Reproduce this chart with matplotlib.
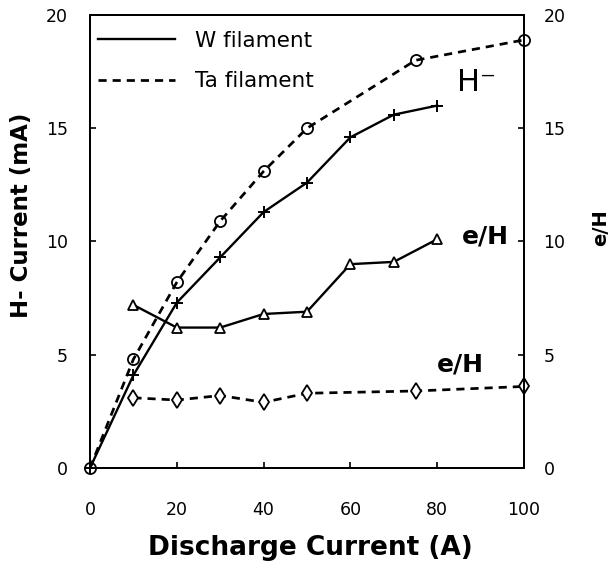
import matplotlib
matplotlib.use("Agg")
import matplotlib.pyplot as plt

plt.rcParams['font.family'] = ['DejaVu Sans']

# Data
w_h_x = [0, 10, 20, 30, 40, 50, 60, 70, 80]
w_h_y = [0, 4.1, 7.3, 9.3, 11.3, 12.6, 14.6, 15.6, 16.0]
ta_h_x = [0, 10, 20, 30, 40, 50, 75, 100]
ta_h_y = [0, 4.8, 8.2, 10.9, 13.1, 15.0, 18.0, 18.9]
w_eh_x = [10, 20, 30, 40, 50, 60, 70, 80]
w_eh_y = [7.2, 6.2, 6.2, 6.8, 6.9, 9.0, 9.1, 10.1]
ta_eh_x = [10, 20, 30, 40, 50, 75, 100]
ta_eh_y = [3.1, 3.0, 3.2, 2.9, 3.3, 3.4, 3.6]
x_ticks = [0, 20, 40, 60, 80, 100]
y_ticks = [0, 5, 10, 15, 20]

fig = plt.figure(figsize=(6.14, 5.73), dpi=100)
ax = fig.add_axes([90/614, 1-468/573, 434/614, 453/573])
ax2 = ax.twinx()

lw = 1.7
dash = (3.0, 2.2)
ax.plot(w_h_x, w_h_y, color='black', lw=lw, marker='+', ms=9, mew=1.4,
        label='W filament', zorder=3, clip_on=False)
ax.plot(ta_h_x, ta_h_y, color='black', lw=lw * 1.15, ls=(0, dash), marker='o', ms=8,
        mfc='none', mec='black', mew=1.3, label='Ta filament', zorder=2, clip_on=False)
ax2.plot(w_eh_x, w_eh_y, color='black', lw=lw, marker='^', ms=7.5,
         mfc='white', mec='black', mew=1.3, clip_on=False)
ax2.plot(ta_eh_x, ta_eh_y, color='black', lw=lw * 1.15, ls=(0, dash), marker='d', ms=8,
         mfc='white', mec='black', mew=1.3, clip_on=False)

for a in (ax, ax2):
    a.set_xlim(0, 100)
    a.set_ylim(0, 20)
    a.set_yticks(y_ticks)
    for s in a.spines.values():
        s.set_linewidth(1.4)

ax.set_xticks(x_ticks)
ax.set_xticklabels([str(v) for v in x_ticks])
ax.tick_params(axis='x', direction='in', length=4, width=1.2, pad=24, labelsize=12.5)
ax.tick_params(axis='y', direction='in', length=4, width=1.2, pad=16, labelsize=12.5)
ax2.tick_params(axis='y', direction='in', length=4, width=1.2, pad=14, labelsize=12.5)

fig.text(22/614, 1-215/573, 'H- Current (mA)', rotation=90, ha='center', va='center',
         fontsize=16.5, fontweight='bold')
fig.text(601/614, 1-228/573, 'e/H', rotation=90, ha='center', va='center',
         fontsize=14, fontweight='bold')
fig.text(310/614, 1-548/573, 'Discharge Current (A)', ha='center', va='center',
         fontsize=19, fontweight='bold')

ax.text(84.6, 17.0, 'H\u207b', ha='left', va='center', fontsize=22)
ax2.text(85.8, 10.2, 'e/H', ha='left', va='center', fontsize=18, fontweight='bold')
ax2.text(80.0, 4.55, 'e/H', ha='left', va='center', fontsize=18, fontweight='bold')

leg = ax.legend(loc='upper left', bbox_to_anchor=(0.018, 0.965), frameon=False,
                borderpad=0, borderaxespad=0, handlelength=3.6, handletextpad=0.9,
                labelspacing=0.95, fontsize=15.5)
for h in leg.get_lines():
    h.set_marker('')

fig.savefig('out.png', dpi=100)
